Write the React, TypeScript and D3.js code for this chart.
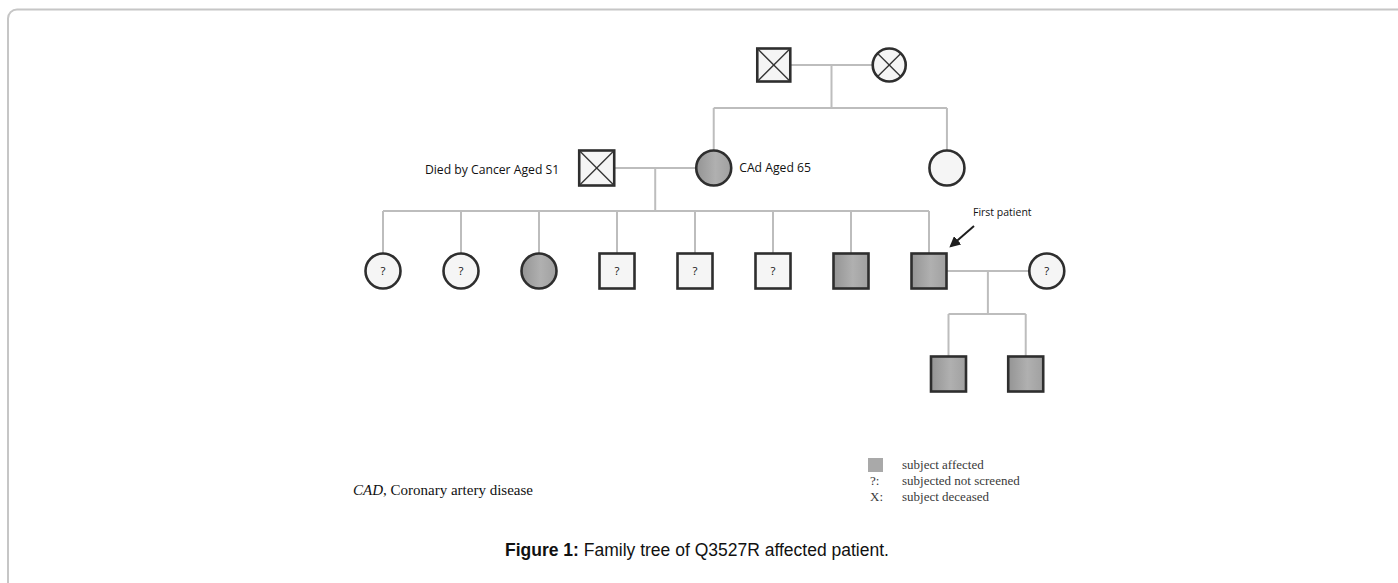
import React from "react";
import * as d3 from "d3";

// ---- data ----
type Person = { id: string; gen: number; pos: number; sex: "M" | "F"; affected: boolean; deceased: boolean; unknown: boolean };

const people: Person[] = [
  { id: "I1", gen: 0, pos: 5.01, sex: "M", affected: false, deceased: true, unknown: false },
  { id: "I2", gen: 0, pos: 6.49, sex: "F", affected: false, deceased: true, unknown: false },
  { id: "II1", gen: 1, pos: 2.74, sex: "M", affected: false, deceased: true, unknown: false },
  { id: "II2", gen: 1, pos: 4.24, sex: "F", affected: true, deceased: false, unknown: false },
  { id: "II3", gen: 1, pos: 7.23, sex: "F", affected: false, deceased: false, unknown: false },
  { id: "III1", gen: 2, pos: 0, sex: "F", affected: false, deceased: false, unknown: true },
  { id: "III2", gen: 2, pos: 1, sex: "F", affected: false, deceased: false, unknown: true },
  { id: "III3", gen: 2, pos: 2, sex: "F", affected: true, deceased: false, unknown: false },
  { id: "III4", gen: 2, pos: 3, sex: "M", affected: false, deceased: false, unknown: true },
  { id: "III5", gen: 2, pos: 4, sex: "M", affected: false, deceased: false, unknown: true },
  { id: "III6", gen: 2, pos: 5, sex: "M", affected: false, deceased: false, unknown: true },
  { id: "III7", gen: 2, pos: 6, sex: "M", affected: true, deceased: false, unknown: false },
  { id: "III8", gen: 2, pos: 7, sex: "M", affected: true, deceased: false, unknown: false },
  { id: "III9", gen: 2, pos: 8.51, sex: "F", affected: false, deceased: false, unknown: true },
  { id: "IV1", gen: 3, pos: 7.25, sex: "M", affected: true, deceased: false, unknown: false },
  { id: "IV2", gen: 3, pos: 8.24, sex: "M", affected: true, deceased: false, unknown: false },
];

const couples: [string, string][] = [
  ["I1", "I2"],
  ["II1", "II2"],
  ["III8", "III9"],
];

const offspring: { parents: [string, string]; children: string[] }[] = [
  { parents: ["I1", "I2"], children: ["II2", "II3"] },
  { parents: ["II1", "II2"], children: ["III1", "III2", "III3", "III4", "III5", "III6", "III7", "III8"] },
  { parents: ["III8", "III9"], children: ["IV1", "IV2"] },
];

const personLabels = [
  { id: "II1", text: "Died by Cancer Aged S1", side: "left" },
  { id: "II2", text: "CAd Aged 65", side: "right" },
];

const probandId = "III8";
const probandLabel = "First patient";

const legendItems = [
  { key: "box", text: "subject affected" },
  { key: "?:", text: "subjected not screened" },
  { key: "X:", text: "subject deceased" },
];

const footnoteAbbr = "CAD";
const footnoteText = ", Coronary artery disease";
const captionBold = "Figure 1:";
const captionText = " Family tree of Q3527R affected patient.";

// ---- component ----
export default function App() {
  const W = 1398;
  const H = 583;
  const x = d3.scaleLinear().domain([0, 7]).range([383, 929]);
  const y = d3.scaleLinear().domain([0, 3]).range([65, 374]);
  const half = 17.5;
  const byId = new Map(people.map((p) => [p.id, p]));
  const px = (id: string) => x(byId.get(id)!.pos);
  const py = (id: string) => y(byId.get(id)!.gen);

  const lineColor = "#bdbdbd";
  const symStroke = "#2e2e2e";

  const line = d3.line<[number, number]>();

  return (
    <div style={{ position: "fixed", left: 0, top: 0 }}>
      <svg width={W} height={H} style={{ display: "block", background: "#fff" }}>
        <defs>
          <linearGradient id="aff" x1="0" x2="1" y1="0" y2="0">
            <stop offset="0%" stopColor="#949494" />
            <stop offset="55%" stopColor="#b0b0b0" />
            <stop offset="100%" stopColor="#a0a0a0" />
          </linearGradient>
          <marker id="arrow" viewBox="0 0 10 10" refX="8" refY="5" markerWidth="5.5" markerHeight="5.5" orient="auto">
            <path d="M0,0 L10,5 L0,10 z" fill="#1e1e1e" />
          </marker>
        </defs>
        <rect x={8} y={9.5} width={1400} height={620} rx={9} fill="none" stroke="#c6c6c6" strokeWidth={2} />

        {/* couple lines */}
        {couples.map(([a, b]) => (
          <path key={a + b} d={line([[px(a), py(a)], [px(b), py(b)]])!} stroke={lineColor} strokeWidth={2} fill="none" />
        ))}

        {/* offspring lines */}
        {offspring.map((o) => {
          const [a, b] = o.parents;
          const mx = (px(a) + px(b)) / 2;
          const pyv = py(a);
          const sibY = pyv + 43;
          const cx = o.children.map(px);
          const cy = py(o.children[0]);
          const left = Math.min(...cx, mx);
          const right = Math.max(...cx, mx);
          return (
            <g key={a + b + "o"} stroke={lineColor} strokeWidth={2} fill="none">
              <path d={line([[mx, pyv], [mx, sibY]])!} />
              <path d={line([[left, sibY], [right, sibY]])!} />
              {o.children.map((c) => (
                <path key={c} d={line([[px(c), sibY], [px(c), cy - half]])!} />
              ))}
            </g>
          );
        })}

        {/* symbols */}
        {people.map((p) => {
          const cx = x(p.pos);
          const cy = y(p.gen);
          const fill = p.affected ? "url(#aff)" : "#f5f5f5";
          const s = p.gen === 0 ? 16.5 : half;
          const k = p.sex === "F" ? 0.7 : 1;
          const cross = p.deceased ? (
            <g stroke="#333" strokeWidth={1.3}>
              <path d={line([[cx - s * k, cy - s * k], [cx + s * k, cy + s * k]])!} />
              <path d={line([[cx + s * k, cy - s * k], [cx - s * k, cy + s * k]])!} />
            </g>
          ) : null;
          return (
            <g key={p.id}>
              {p.sex === "M" ? (
                <rect x={cx - s} y={cy - s} width={2 * s} height={2 * s} fill={fill} stroke={symStroke} strokeWidth={2.6} />
              ) : (
                <circle cx={cx} cy={cy} r={s} fill={fill} stroke={symStroke} strokeWidth={2.6} />
              )}
              {cross}
              {p.unknown && (
                <text x={cx} y={cy + 4} textAnchor="middle" fontFamily="Open Sans, sans-serif" fontSize={11.5} fill="#111">?</text>
              )}
            </g>
          );
        })}

        {/* person labels */}
        {personLabels.map((l) => {
          const cx = px(l.id);
          const cy = py(l.id);
          return (
            <text
              key={l.id}
              x={l.side === "left" ? cx - half - 20 : cx + half + 8}
              y={cy + (l.side === "left" ? 6 : 4)}
              textAnchor={l.side === "left" ? "end" : "start"}
              fontFamily="Open Sans, sans-serif"
              fontSize={12.2}
              fill="#111"
            >
              {l.text}
            </text>
          );
        })}

        {/* proband arrow */}
        <path
          d={line([[px(probandId) + 45, py(probandId) - 45], [px(probandId) + 22, py(probandId) - 25]])!}
          stroke="#1e1e1e"
          strokeWidth={2}
          markerEnd="url(#arrow)"
        />
        <text x={px(probandId) + 44} y={py(probandId) - 55} fontFamily="Open Sans, sans-serif" fontSize={10.5} fill="#111">
          {probandLabel}
        </text>

        {/* legend */}
        <g fontFamily="Liberation Serif, Times New Roman, serif" fontSize={13} fill="#3a3a3a">
          {legendItems.map((it, i) => {
            const ry = 465 + i * 16;
            return (
              <g key={it.key}>
                {it.key === "box" ? (
                  <rect x={868} y={ry - 7} width={15} height={14} fill="#a9a9a9" />
                ) : (
                  <text x={870} y={ry + 4}>{it.key}</text>
                )}
                <text x={902} y={ry + 4}>{it.text}</text>
              </g>
            );
          })}
        </g>

        {/* footnote */}
        <text x={353} y={495} fontFamily="Liberation Serif, Times New Roman, serif" fontSize={15} fill="#111">
          <tspan fontStyle="italic">{footnoteAbbr}</tspan>
          <tspan>{footnoteText}</tspan>
        </text>

        {/* caption */}
        <text x={505} y={556} fontFamily="Liberation Sans, Arial, sans-serif" fontSize={17.5} fill="#111">
          <tspan fontWeight="bold">{captionBold}</tspan>
          <tspan>{captionText}</tspan>
        </text>
      </svg>
    </div>
  );
}
